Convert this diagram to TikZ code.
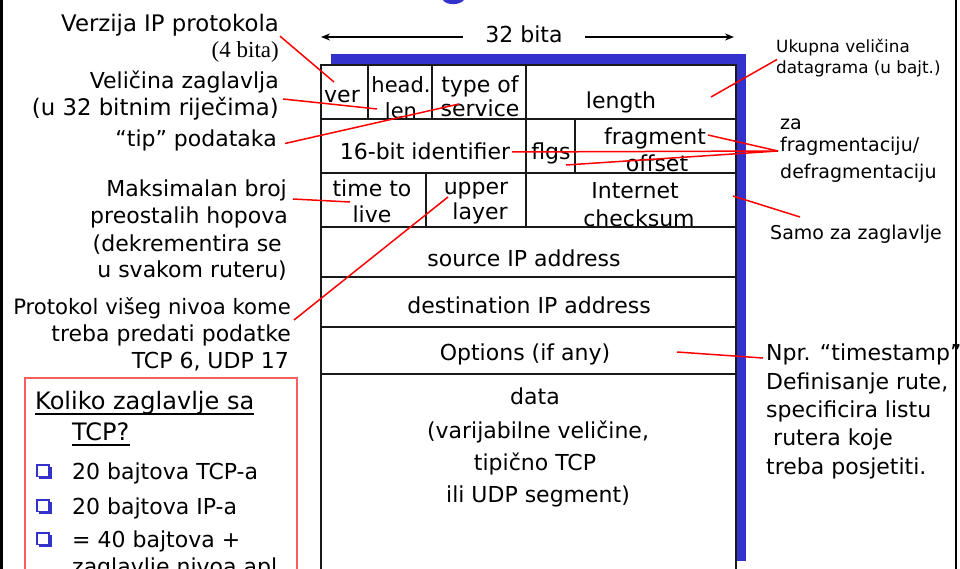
\documentclass[tikz,border=0pt]{standalone}
\usepackage{fontspec}
\setmainfont{DejaVu Sans}
\newfontfamily\timesfont{Liberation Serif}
\usetikzlibrary{arrows.meta,calc}
\definecolor{shadowblue}{RGB}{51,51,204}
\definecolor{gridgray}{RGB}{25,25,25}
\definecolor{boxred}{RGB}{245,95,95}
\begin{document}
\begin{tikzpicture}[x=1pt,y=-1pt,
  txt/.style={inner sep=0pt, yshift=-6pt, font=\fontsize{22}{27}\selectfont},
  widetxt/.style={inner sep=0pt, yshift=-6pt, font=\fontsize{22.8}{27}\selectfont},
  hdtxt/.style={inner sep=0pt, yshift=-5.5pt, font=\fontsize{21}{25}\selectfont},
  smalltxt/.style={inner sep=0pt, yshift=-4.5pt, font=\fontsize{16.8}{20}\selectfont},
  medtxt/.style={inner sep=0pt, yshift=-5pt, font=\fontsize{19}{23}\selectfont},
  notetxt/.style={inner sep=0pt, yshift=-6pt, font=\fontsize{22}{26}\selectfont},
  titletxt/.style={inner sep=0pt, yshift=-6.5pt, font=\fontsize{24}{28}\selectfont},
  serifnote/.style={inner sep=0pt, yshift=-4pt, font=\timesfont\fontsize{23}{27}\selectfont},
  grid/.style={draw=gridgray, line width=2pt},
  callout/.style={draw=red, line width=1.5pt},
  widtharrow/.style={draw=black, line width=2pt, -{Stealth[length=9pt,width=7pt]}},
  sqbullet/.pic={
    \draw[shadowblue, line width=1.1pt] (-7.5,-6) rectangle (4.5,5.5);
    \fill[shadowblue] (4.5,-4) rectangle (7,8);
    \fill[shadowblue] (-5.5,5.5) rectangle (7,8);
  }
]
\useasboundingbox (0,0) rectangle (960,569);
\clip (0,0) rectangle (960,569);

% page frame
\draw[line width=2.6pt] (1.6,0) -- (1.6,569);
\draw[line width=2.6pt] (955.8,0) -- (955.8,569);
% tail of the heading glyph
\fill[shadowblue] (443,0) .. controls (446,5.5) and (460,5.5) .. (464,0) -- cycle;

% width marker
\node[txt, anchor=mid, inner xsep=22pt] (bits) at (524,34) {32 bita};
\coordinate (bL) at (321,37);
\coordinate (bR) at (734,37);
\draw[widtharrow] (bits.west |- bL) -- (bL);
\draw[widtharrow] (bits.east |- bR) -- (bR);

% header layout
\fill[shadowblue] (331,54) rectangle (746,561);
\draw[grid, fill=white] (321,65) rectangle (736,600);
\draw[grid] (321,119) -- (736,119);
\draw[grid] (321,173) -- (736,173);
\draw[grid] (321,227) -- (736,227);
\draw[grid] (321,277) -- (736,277);
\draw[grid] (321,327) -- (736,327);
\draw[grid] (321,374) -- (736,374);
\draw[grid] (368,65) -- (368,119);
\draw[grid] (432,65) -- (432,119);
\draw[grid] (526,65) -- (526,227);
\draw[grid] (575,119) -- (575,173);
\draw[grid] (426,173) -- (426,227);

% field names
\node[txt, anchor=mid] (ver) at (342,94) {ver};
\node[hdtxt, anchor=mid] (headA) at (401,84) {head.};
\node[hdtxt, anchor=mid] (headB) at (401,110) {len};
\node[txt, anchor=mid] (tosA) at (480,84) {type of};
\node[txt, anchor=mid] (tosB) at (480,108) {service};
\node[txt, anchor=mid] (len) at (621,100) {length};
\node[txt, anchor=mid] (ident) at (425,151) {16-bit identifier};
\node[txt, anchor=mid] (flgs) at (551,151) {flgs};
\node[txt, anchor=mid] (fragA) at (655,136) {fragment};
\node[txt, anchor=mid] (fragB) at (657,163) {offset};
\node[txt, anchor=mid] (ttlA) at (372,187.5) {time to};
\node[txt, anchor=mid] (ttlB) at (372,214) {live};
\node[txt, anchor=mid] (upA) at (476,186) {upper};
\node[txt, anchor=mid] (upB) at (480,211) {layer};
\node[txt, anchor=mid] (csA) at (635,190) {Internet};
\node[txt, anchor=mid] (csB) at (639,218) {checksum};
\node[txt, anchor=mid] (src) at (524,258) {source IP address};
\node[txt, anchor=mid] (dst) at (529,305) {destination IP address};
\node[txt, anchor=mid] (opts) at (525,352) {Options (if any)};
\node[txt, anchor=mid] (dataA) at (535,396) {data};
\node[txt, anchor=mid] (dataB) at (538,430) {(varijabilne veličine,};
\node[txt, anchor=mid] (dataC) at (535,462) {tipično TCP};
\node[txt, anchor=mid] (dataD) at (538,494) {ili UDP segment)};

% notes on the left
\node[widetxt, anchor=mid east] (verz) at (279,22.5) {Verzija IP protokola};
\node[serifnote, anchor=mid east] (fourbits) at (279,51) {(4 bita)};
\node[txt, anchor=mid east] (velA) at (279,80) {Veličina zaglavlja};
\node[widetxt, anchor=mid east] (velB) at (279,107) {(u 32 bitnim riječima)};
\node[txt, anchor=mid east] (tip) at (277,137.5) {“tip” podataka};
\node[txt, anchor=mid east] (maksA) at (287,187.5) {Maksimalan broj};
\node[txt, anchor=mid east] (maksB) at (288,215) {preostalih hopova};
\node[txt, anchor=mid east] (maksC) at (282,243) {(dekrementira se};
\node[txt, anchor=mid east] (maksD) at (287,269) {u svakom ruteru)};
\node[txt, anchor=mid east, font=\fontsize{21.2}{26}\selectfont] (protA) at (291,306) {Protokol višeg nivoa kome};
\node[txt, anchor=mid east] (protB) at (291,333) {treba predati podatke};
\node[txt, anchor=mid east] (protC) at (289,360) {TCP 6, UDP 17};

% notes on the right
\node[smalltxt, anchor=mid west] (ukA) at (776,45) {Ukupna veličina};
\node[smalltxt, anchor=mid west] (ukB) at (776,66) {datagrama (u bajt.)};
\node[medtxt, anchor=mid west] (zaA) at (780,122) {za};
\node[medtxt, anchor=mid west] (zaB) at (780,144) {fragmentaciju/};
\node[medtxt, anchor=mid west] (zaC) at (780,171) {defragmentaciju};
\node[medtxt, anchor=mid west] (samo) at (770,232) {Samo za zaglavlje};
\node[notetxt, anchor=mid west] (nprA) at (766,352) {Npr. “timestamp”};
\node[notetxt, anchor=mid west] (nprB) at (766,381) {Definisanje rute,};
\node[notetxt, anchor=mid west] (nprC) at (766,409) {specificira listu};
\node[notetxt, anchor=mid west] (nprD) at (773,437) {rutera koje};
\node[notetxt, anchor=mid west] (nprE) at (766,466) {treba posjetiti.};

% question box
\draw[boxred, line width=1.3pt] (25,378) rectangle (297,600);
\node[titletxt, anchor=mid west] (kA) at (35,400) {Koliko zaglavlje sa};
\node[titletxt, anchor=mid west] (kB) at (72,431) {TCP?};
\draw[line width=2pt] (kA.south west) -- (kA.south east);
\draw[line width=2pt] ([yshift=-4.5pt]kB.base west) -- ([yshift=-4.5pt]kB.base east);
\pic at (44.5,471) {sqbullet};
\pic at (44.5,506) {sqbullet};
\pic at (44.5,539) {sqbullet};
\node[txt, anchor=mid west] (qA) at (72,471) {20 bajtova TCP-a};
\node[txt, anchor=mid west] (qB) at (72,506) {20 bajtova IP-a};
\node[txt, anchor=mid west] (qC) at (72,539) {= 40 bajtova +};
\node[txt, anchor=mid west] (qD) at (72,566) {zaglavlje nivoa apl.};

% pointer targets inside the fields
\coordinate (eVer) at (334,82);
\coordinate (eHlen) at (377,109);
\coordinate (eTos) at (459,104);
\coordinate (eTtl) at (350,202);
\coordinate (eProto) at (448,197);
\coordinate (eLen) at (711,97);
\coordinate (eFrag) at (708,135);
\coordinate (eId) at (512,152);
\coordinate (eFlg) at (566,165);
\coordinate (eCs) at (733,196);
\coordinate (eOpt) at (677,352);

% red pointers
\draw[callout] ([xshift=1pt]verz.south east) -- (eVer);
\draw[callout] ([xshift=4pt,yshift=-13pt]velA.mid east) -- (eHlen);
\draw[callout] ([xshift=8pt]tip.mid east) -- (eTos);
\draw[callout] ([xshift=6pt,yshift=-5.5pt]maksA.mid east) -- (eTtl);
\draw[callout] ([xshift=3pt,yshift=-8pt]protA.mid east) -- (eProto);
\draw[callout] ([xshift=1pt,yshift=-10pt]ukA.mid west) -- (eLen);
\coordinate (fragHub) at ([xshift=-2pt,yshift=-2pt]zaB.mid west);
\draw[callout] (fragHub) -- (eFrag);
\draw[callout] (fragHub) -- (eId);
\draw[callout] (fragHub) -- (eFlg);
\draw[callout] ([xshift=30pt,yshift=20pt]samo.mid west) -- (eCs);
\draw[callout] ([xshift=-3pt]nprA.mid west) -- (eOpt);
\end{tikzpicture}
\end{document}
